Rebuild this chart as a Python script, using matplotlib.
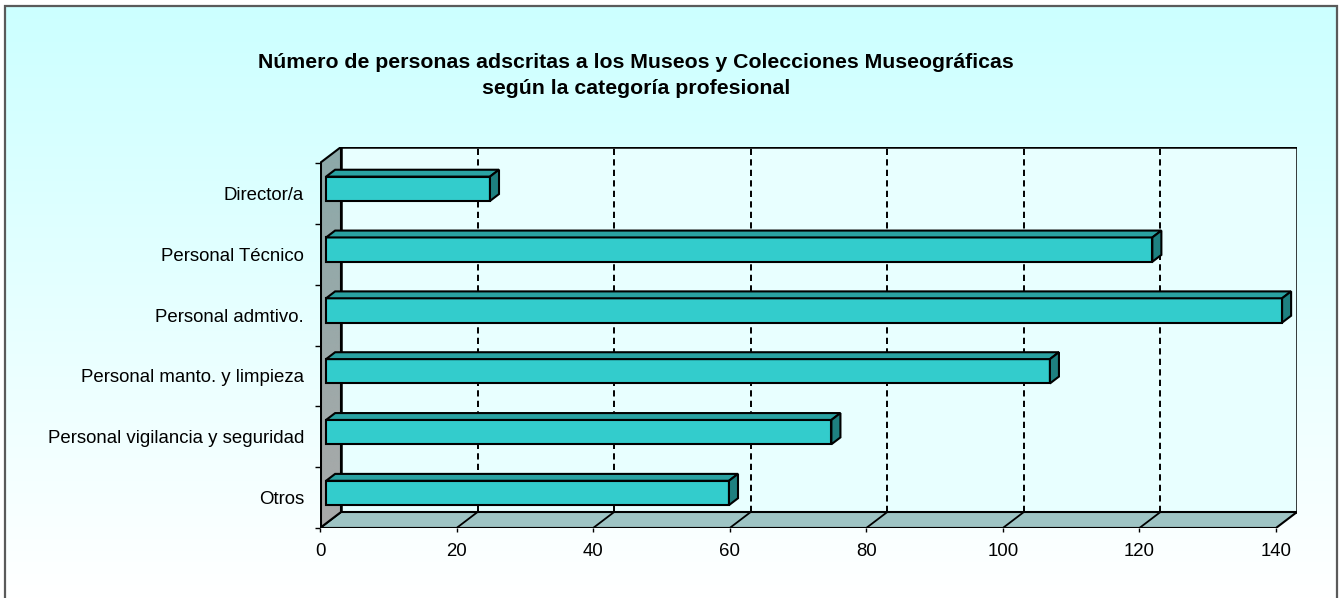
import numpy as np
import matplotlib
matplotlib.use("Agg")
import matplotlib.pyplot as plt
from matplotlib.patches import Polygon
from matplotlib.colors import LinearSegmentedColormap

# ---------------- data ----------------
categories = ["Director/a", "Personal Técnico", "Personal admtivo.",
              "Personal manto. y limpieza", "Personal vigilancia y seguridad", "Otros"]
values = [24, 121, 140, 106, 74, 59]
x_ticks = [0, 20, 40, 60, 80, 100, 120, 140]
title_lines = ["Número de personas adscritas a los Museos y Colecciones Museográficas",
               "según la categoría profesional"]

plt.rcParams['font.family'] = ['Liberation Sans', 'DejaVu Sans']

W, H = 1340, 598
fig = plt.figure(figsize=(W / 100, H / 100), dpi=100)
fig.patch.set_facecolor('white')

# background (chart area with vertical gradient)
bg = fig.add_axes([0, 0, 1, 1], zorder=0)
bg.set_xlim(0, W)
bg.set_ylim(H, 0)
bg.axis('off')
grad = np.linspace(0, 1, 256).reshape(-1, 1)
bg.imshow(grad, cmap=LinearSegmentedColormap.from_list('bg', ['#CCFFFF', '#FFFFFF']),
          extent=[5, 1337, H, 6], aspect='auto', interpolation='bilinear')
bg.plot([5, 5, 1337, 1337], [H + 2, 6, 6, H + 2], color='#5a5a5a', lw=1.6,
        solid_joinstyle='miter')
bg.set_xlim(0, W)
bg.set_ylim(H, 0)

# ---------------- 3D frame geometry ----------------
XMAX = 140
n = len(categories)
DX = 3.075     # depth offset in value units
DY = 0.263     # depth offset in category units
F = 0.29       # depth fraction of bar front face
G = 0.43       # bar depth fraction
BH = 0.40      # bar height (category units)
EDGE = 1.5

px_x = 956 / XMAX
px_y = 365 / n
ax = fig.add_axes([320 / W, 70 / H, (XMAX + DX) * px_x / W, (n + DY) * px_y / H], zorder=1)
ax.patch.set_alpha(0)
for s in ax.spines.values():
    s.set_visible(False)

# back wall
ax.add_patch(Polygon([(DX, DY), (XMAX + DX, DY), (XMAX + DX, n + DY), (DX, n + DY)],
                     closed=True, fc='#E8FFFF', ec='black', lw=1.8, zorder=1))
# floor
ax.add_patch(Polygon([(0, 0), (XMAX, 0), (XMAX + DX, DY), (DX, DY)],
                     closed=True, fc='#9EC4C4', ec='black', lw=1.5, zorder=2))
# left wall with gradient
lw_poly = Polygon([(0, 0), (DX, DY), (DX, n + DY), (0, n)], closed=True,
                  fc='none', ec='black', lw=1.5, zorder=3)
ax.add_patch(lw_poly)
im = ax.imshow(grad, cmap=LinearSegmentedColormap.from_list('lw', ['#8CA9A9', '#A9A9A9']),
               extent=[0, DX, 0, n + DY], aspect='auto', zorder=2.5, interpolation='bilinear')
im.set_clip_path(lw_poly)

# gridlines on back wall and floor
for v in x_ticks[1:-1]:
    ax.plot([v + DX, v + DX], [DY, n + DY], color='black', lw=1.4,
            ls=(0, (3.2, 2.2)), zorder=1.5)
    ax.plot([v, v + DX], [0, DY], color='black', lw=1.3, zorder=2.2)

# thick front edges
ax.plot([0, XMAX], [0, 0], color='black', lw=2.2, zorder=4, solid_capstyle='projecting')
ax.plot([0, 0], [0, n], color='black', lw=2.2, zorder=4, solid_capstyle='projecting')

# bars
ypos = [n - 1 - i + 0.5 for i in range(n)]
x0 = F * DX
for yc, val in zip(ypos, values):
    yb = yc - BH / 2 + F * DY
    ax.barh(yc + F * DY, val, height=BH, left=x0, color='#33CCCC',
            edgecolor='black', lw=EDGE, zorder=5)
    top = [(x0, yb + BH), (x0 + val, yb + BH),
           (x0 + val + G * DX, yb + BH + G * DY), (x0 + G * DX, yb + BH + G * DY)]
    side = [(x0 + val, yb), (x0 + val + G * DX, yb + G * DY),
            (x0 + val + G * DX, yb + BH + G * DY), (x0 + val, yb + BH)]
    ax.add_patch(Polygon(top, closed=True, fc='#2AA2A2', ec='black', lw=EDGE, zorder=5))
    ax.add_patch(Polygon(side, closed=True, fc='#1E8080', ec='black', lw=EDGE, zorder=5))

ax.set_xlim(0, XMAX + DX)
ax.set_ylim(0, n + DY)

# ticks and labels
ax.set_xticks(x_ticks)
ax.set_xticklabels([str(t) for t in x_ticks])
ax.set_yticks(ypos)
ax.set_yticklabels(categories)
ax.set_yticks(list(range(n + 1)), minor=True)
ax.tick_params(axis='x', which='major', length=3, width=1, pad=8, labelsize=13.4,
               direction='out', color='black')
ax.tick_params(axis='y', which='major', length=0, pad=11.5, labelsize=13.45)
ax.tick_params(axis='y', which='minor', length=3.8, width=1, color='black', direction='out')

# title
fig.text(636 / W, 1 - 68.5 / H, title_lines[0], ha='center', va='baseline',
         fontsize=15.35, fontweight='bold')
fig.text(636 / W, 1 - 94 / H, title_lines[1], ha='center', va='baseline',
         fontsize=15.35, fontweight='bold')

fig.savefig('out.png', dpi=100)
